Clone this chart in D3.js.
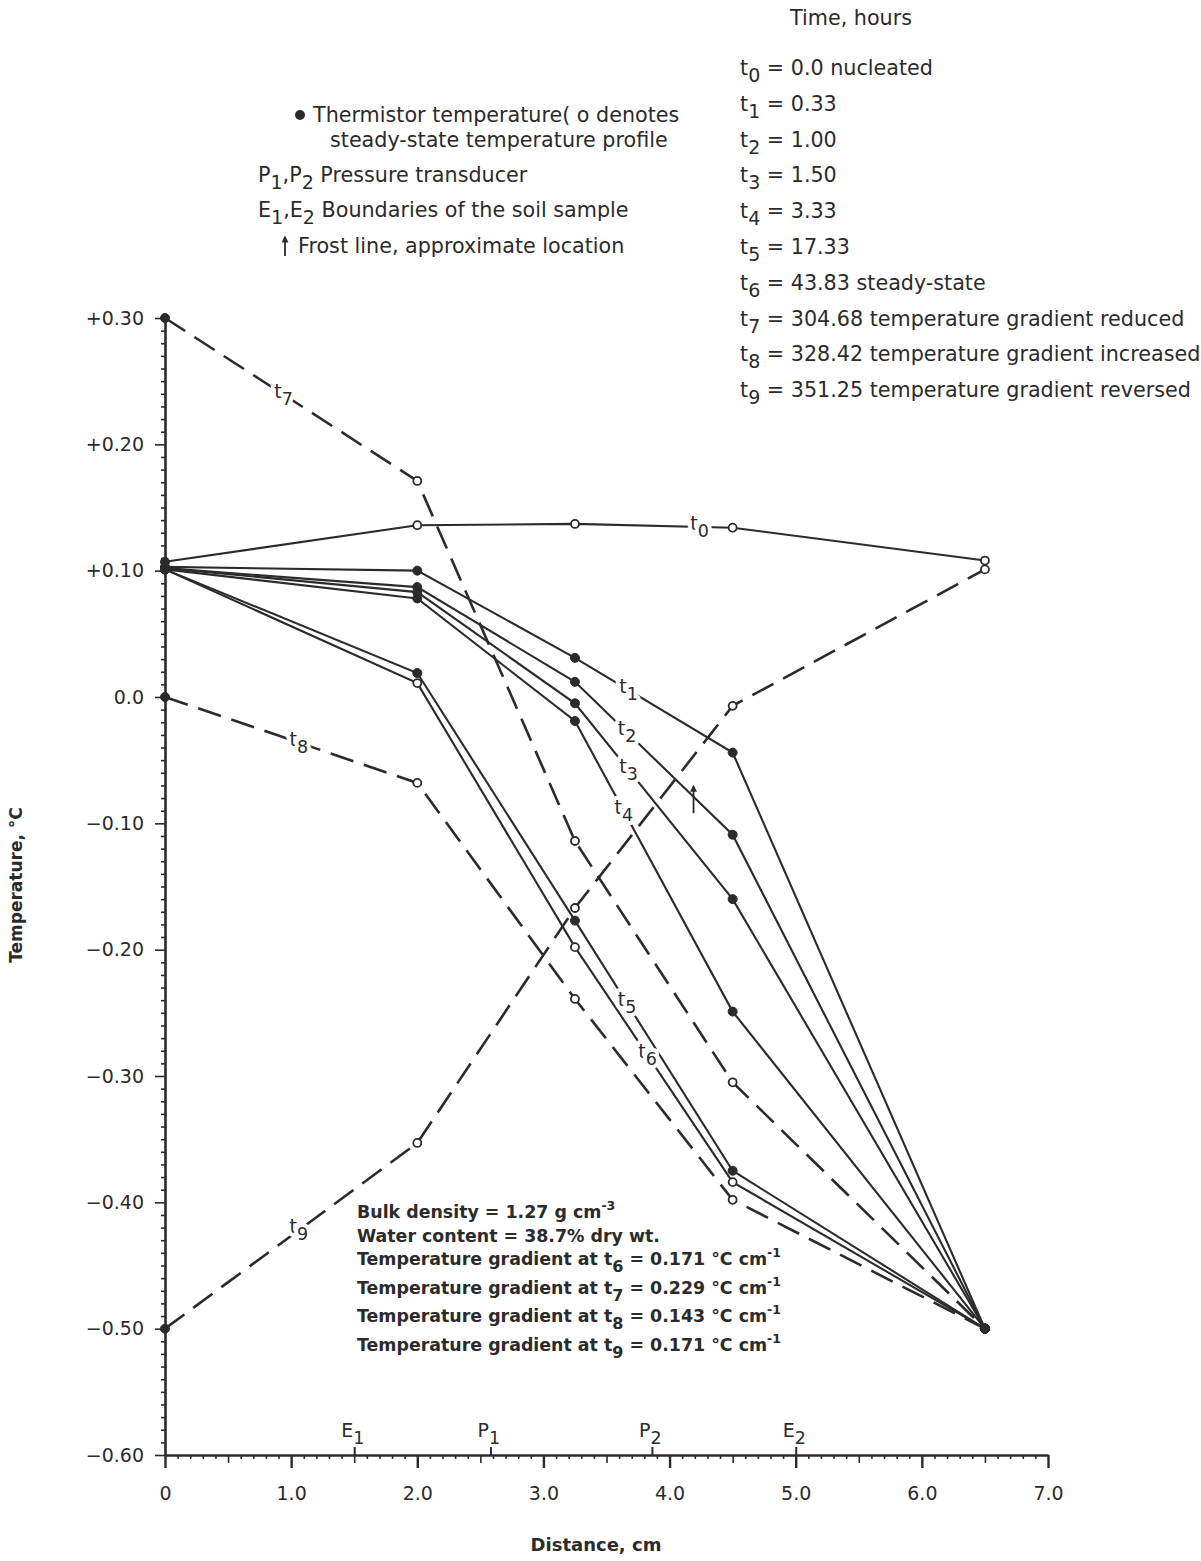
<!DOCTYPE html>
<html>
<head>
<meta charset="utf-8">
<script src="https://cdn.jsdelivr.net/npm/d3@7"></script>
<style>
  body { margin: 0; background: #fff; }
  svg text { font-family: "DejaVu Sans", sans-serif; fill: #2b2b2b; }
</style>
</head>
<body>
<svg id="chart" width="1201" height="1561"></svg>
<script>
// distance of each thermistor from the warm end, cm
var distance = [0, 2.0, 3.25, 4.5, 6.5];

// temperature profiles, degC
var t0 = [0.107, 0.136, 0.137, 0.134, 0.108];
var t1 = [0.103, 0.100, 0.031, -0.044, -0.50];
var t2 = [0.102, 0.087, 0.012, -0.109, -0.50];
var t3 = [0.102, 0.083, -0.005, -0.160, -0.50];
var t4 = [0.101, 0.078, -0.019, -0.249, -0.50];
var t5 = [0.101, 0.019, -0.177, -0.375, -0.50];
var t6 = [0.101, 0.011, -0.198, -0.384, -0.50];
var t7 = [0.30, 0.171, -0.114, -0.305, -0.50];
var t8 = [0.0, -0.068, -0.239, -0.398, -0.50];
var t9 = [-0.50, -0.353, -0.167, -0.007, 0.101];
var profiles = [t0, t1, t2, t3, t4, t5, t6, t7, t8, t9];

var yTicks = [0.3, 0.2, 0.1, 0, -0.1, -0.2, -0.3, -0.4, -0.5, -0.6];
var yTickLabels = ["+0.30", "+0.20", "+0.10", "0.0", "\u22120.10", "\u22120.20", "\u22120.30", "\u22120.40", "\u22120.50", "\u22120.60"];
var xTicks = [0, 1, 2, 3, 4, 5, 6, 7];
var xTickLabels = ["0", "1.0", "2.0", "3.0", "4.0", "5.0", "6.0", "7.0"];

// sample boundaries and pressure transducers along the column
var probeNames = ["E", "P", "P", "E"];
var probeSubs = ["1", "1", "2", "2"];
var probeAt = [1.5, 2.58, 3.86, 5.0];

var frostLineAt = [4.19, -0.092];

var timeHours = ["0.0 nucleated", "0.33", "1.00", "1.50", "3.33", "17.33",
  "43.83 steady-state", "304.68 temperature gradient reduced",
  "328.42 temperature gradient increased", "351.25 temperature gradient reversed"];

var gradientTimes = ["6", "7", "8", "9"];
var gradientValues = ["0.171", "0.229", "0.143", "0.171"];

// ---- drawing ----
var ink = "#2b2b2b";
var svg = d3.select("#chart");

var x = d3.scaleLinear().domain([0, 7]).range([165, 1048]);
var y = d3.scaleLinear().domain([-0.6, 0.3]).range([1455, 318]);

var dashed = [false, false, false, false, false, false, false, true, true, true];
var markStyle = ["open", "filled", "filled", "filled", "filled", "filled", "open", "open", "open", "open"];
var labelSeg = [2, 2, 2, 2, 2, 2, 2, 0, 0, 0];
var labelFrac = [0.79, 0.34, 0.33, 0.34, 0.31, 0.33, 0.46, 0.47, 0.53, 0.53];

// writes a run of [text, shift] pieces; shift "sub" / "sup" / ""
function writeRuns(sel, runs, size) {
  var shift = 0;
  runs.forEach(function(r) {
    var target = r[1] == "sub" ? 7 : r[1] == "sup" ? -8 : 0;
    sel.append("tspan")
      .attr("dy", target - shift)
      .attr("font-size", r[1] == "sub" ? size * 0.92 : r[1] == "sup" ? size * 0.72 : size)
      .text(r[0]);
    shift = target;
  });
}

// y axis: minor then major
var yMinor = d3.range(-60, 31).map(function(d) { return d / 100; })
  .filter(function(d) { return Math.round(d * 100) % 10 != 0; });
var gyMinor = svg.append("g").attr("transform", "translate(165,0)")
  .call(d3.axisLeft(y).tickValues(yMinor).tickSize(4).tickSizeOuter(0).tickFormat(""));
gyMinor.select(".domain").remove();
gyMinor.selectAll("line").attr("stroke", ink).attr("stroke-width", 1.6);

var gy = svg.append("g").attr("transform", "translate(165,0)")
  .call(d3.axisLeft(y).tickValues(yTicks).tickSize(10).tickSizeOuter(0).tickPadding(11)
    .tickFormat(function(d, i) { return yTickLabels[i]; }));
gy.select(".domain").attr("stroke", ink).attr("stroke-width", 2.6);
gy.selectAll("line").attr("stroke", ink).attr("stroke-width", 2.4);
gy.selectAll("text").attr("font-size", 19).attr("font-family", "DejaVu Sans").attr("fill", ink);

// x axis: minor, half, major
var xMinor = d3.range(0, 71).map(function(d) { return d / 10; })
  .filter(function(d) { return Math.round(d * 10) % 5 != 0; });
var xHalf = d3.range(0.5, 7, 1);
var gxMinor = svg.append("g").attr("transform", "translate(0,1455)")
  .call(d3.axisBottom(x).tickValues(xMinor).tickSize(4).tickSizeOuter(0).tickFormat(""));
gxMinor.select(".domain").remove();
var gxHalf = svg.append("g").attr("transform", "translate(0,1455)")
  .call(d3.axisBottom(x).tickValues(xHalf).tickSize(8).tickSizeOuter(0).tickFormat(""));
gxHalf.select(".domain").remove();
svg.selectAll("g").selectAll("line").attr("stroke", ink).attr("stroke-width", 1.6);

var gx = svg.append("g").attr("transform", "translate(0,1455)")
  .call(d3.axisBottom(x).tickValues(xTicks).tickSize(13).tickSizeOuter(0).tickPadding(19)
    .tickFormat(function(d, i) { return xTickLabels[i]; }));
gx.select(".domain").attr("stroke", ink).attr("stroke-width", 2.6);
gx.selectAll("line").attr("stroke", ink).attr("stroke-width", 2.4);
gx.selectAll("text").attr("font-size", 19).attr("font-family", "DejaVu Sans").attr("fill", ink);

// probe positions: short ticks above the axis
var gp = svg.append("g").attr("transform", "translate(0,1455)")
  .call(d3.axisTop(x).tickValues(probeAt).tickSize(8).tickSizeOuter(0).tickFormat(""));
gp.select(".domain").remove();
gp.selectAll("line").attr("stroke", ink).attr("stroke-width", 2);

probeAt.forEach(function(p, i) {
  var t = svg.append("text").attr("x", x(p) - 13).attr("y", 1437);
  writeRuns(t, [[probeNames[i], ""], [probeSubs[i], "sub"]], 19);
});

// axis titles
svg.append("text")
  .attr("transform", "translate(22,885) rotate(-90)")
  .attr("text-anchor", "middle")
  .attr("font-size", 17).attr("font-weight", "bold")
  .text("Temperature, \u00b0C");
svg.append("text")
  .attr("x", 596).attr("y", 1551)
  .attr("text-anchor", "middle")
  .attr("font-size", 18).attr("font-weight", "bold")
  .text("Distance, cm");

// profile lines
var line = d3.line()
  .x(function(d, i) { return x(distance[i]); })
  .y(function(d) { return y(d); });

svg.append("g").selectAll("path")
  .data(profiles)
  .enter()
  .append("path")
  .attr("d", line)
  .attr("fill", "none")
  .attr("stroke", ink)
  .attr("stroke-width", function(d, i) { return dashed[i] ? 2.6 : 2.1; })
  .attr("stroke-dasharray", function(d, i) { return dashed[i] ? "24,11" : null; });

// arrow head for the frost line marks
svg.append("defs").append("marker")
  .attr("id", "head")
  .attr("viewBox", "0 0 10 10")
  .attr("refX", 8).attr("refY", 5)
  .attr("markerWidth", 9).attr("markerHeight", 7)
  .attr("markerUnits", "userSpaceOnUse")
  .attr("orient", "auto")
  .append("path").attr("d", "M0,0 L10,5 L0,10 Z").attr("fill", ink);

svg.append("line")
  .attr("x1", x(frostLineAt[0])).attr("x2", x(frostLineAt[0]))
  .attr("y1", y(frostLineAt[1])).attr("y2", y(frostLineAt[1]) - 27)
  .attr("stroke", ink).attr("stroke-width", 1.8)
  .attr("marker-end", "url(#head)");

// line labels, knocked out of the lines
profiles.forEach(function(p, k) {
  var s = labelSeg[k], f = labelFrac[k];
  var lx = x(distance[s] + f * (distance[s + 1] - distance[s]));
  var ly = y(p[s] + f * (p[s + 1] - p[s]));
  var t = svg.append("text")
    .attr("x", lx).attr("y", ly + 3)
    .attr("text-anchor", "middle")
    .attr("stroke", "#fff").attr("stroke-width", 8)
    .attr("paint-order", "stroke")
    .attr("stroke-linejoin", "round");
  writeRuns(t, [["t", ""], [String(k), "sub"]], 19);
});

// thermistor markers
profiles.forEach(function(p, k) {
  p.forEach(function(v, i) {
    var open = markStyle[k] == "open" && i > 0;
    if (i == 4 && k != 0 && k != 9) open = false;
    svg.append("circle")
      .attr("cx", x(distance[i])).attr("cy", y(v))
      .attr("r", open ? 4 : 4.5)
      .attr("fill", open ? "#fff" : ink)
      .attr("stroke", ink).attr("stroke-width", open ? 1.8 : 1);
  });
});

// key, upper left
svg.append("circle").attr("cx", 300).attr("cy", 115).attr("r", 5).attr("fill", ink);
svg.append("text").attr("x", 313).attr("y", 122).attr("font-size", 20.7)
  .text("Thermistor temperature( o denotes");
svg.append("text").attr("x", 330).attr("y", 147).attr("font-size", 20.7)
  .text("steady-state temperature profile");
var k1 = svg.append("text").attr("x", 258).attr("y", 182);
writeRuns(k1, [["P", ""], ["1", "sub"], [",P", ""], ["2", "sub"], ["  Pressure transducer", ""]], 20.7);
var k2 = svg.append("text").attr("x", 258).attr("y", 217);
writeRuns(k2, [["E", ""], ["1", "sub"], [",E", ""], ["2", "sub"], ["  Boundaries of the soil sample", ""]], 20.7);
svg.append("line")
  .attr("x1", 285).attr("x2", 285).attr("y1", 256).attr("y2", 237)
  .attr("stroke", ink).attr("stroke-width", 1.8)
  .attr("marker-end", "url(#head)");
svg.append("text").attr("x", 298).attr("y", 253).attr("font-size", 20.7)
  .text("Frost line, approximate location");

// time key, upper right
svg.append("text").attr("x", 790).attr("y", 25).attr("font-size", 20.7).text("Time, hours");
timeHours.forEach(function(h, i) {
  var t = svg.append("text").attr("x", 740).attr("y", 75 + i * 35.8);
  writeRuns(t, [["t", ""], [String(i), "sub"], [" = " + h, ""]], 20.7);
});

// sample notes, lower left
var noteFont = "'DejaVu Sans Condensed', 'DejaVu Sans', sans-serif";
var n1 = svg.append("text").attr("x", 357).attr("y", 1218)
  .attr("font-family", noteFont).attr("font-weight", "bold");
writeRuns(n1, [["Bulk density = 1.27 g cm", ""], ["-3", "sup"]], 17.4);
svg.append("text").attr("x", 357).attr("y", 1242)
  .attr("font-family", noteFont).attr("font-weight", "bold").attr("font-size", 17.4)
  .text("Water content = 38.7% dry wt.");
gradientTimes.forEach(function(g, i) {
  var t = svg.append("text").attr("x", 357).attr("y", 1265 + i * 28.5)
    .attr("font-family", noteFont).attr("font-weight", "bold");
  writeRuns(t, [["Temperature gradient at t", ""], [g, "sub"],
    [" = " + gradientValues[i] + " \u00b0C cm", ""], ["-1", "sup"]], 17.4);
});
</script>
</body>
</html>
